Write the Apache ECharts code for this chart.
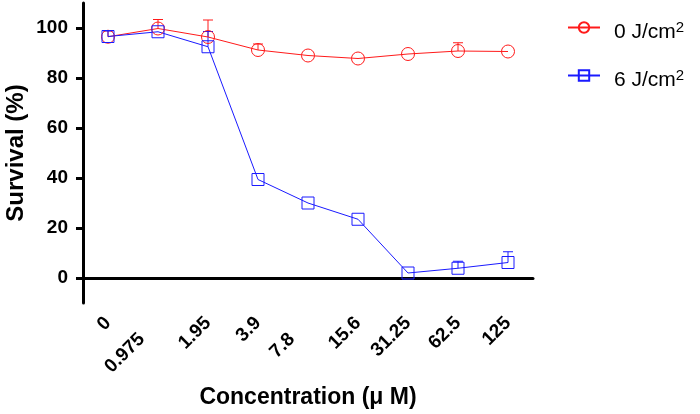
<!DOCTYPE html>
<html>
<head>
<meta charset="utf-8">
<script src="https://cdn.jsdelivr.net/npm/echarts@6/dist/echarts.min.js"></script>
<style>
html,body{margin:0;padding:0;background:#fff;}
#c{width:700px;height:414px;}
</style>
</head>
<body>
<div id="c"></div>
<script>
var categories = ['0', '0.975', '1.95', '3.9', '7.8', '15.6', '31.25', '62.5', '125'];
var dose0 = [96.5, 99.8, 96.4, 91.2, 89.0, 87.8, 89.6, 90.8, 90.6];
var dose0Err = [2.4, 3.6, 6.8, 2.4, 0, 0, 0, 3.3, 0];
var dose6 = [96.6, 98.5, 92.5, 39.4, 30.0, 23.5, 2.0, 3.9, 6.2];
var dose6Err = [2.2, 0, 6.1, 0, 0, 0, 0, 2.8, 4.3];
var yTicks = [0, 20, 40, 60, 80, 100];
var seriesNames = ['0 J/cm{sup|2}', '6 J/cm{sup|2}'];

var FONT = 'Arial, "Liberation Sans", sans-serif';
var RED = '#ff1a1a';
var BLUE = '#1a1aff';
var staggered = {'0.975': true, '7.8': true};

function errData(vals, errs) {
  var out = [];
  for (var i = 0; i < vals.length; i++) {
    if (errs[i] > 0) out.push([i, vals[i], vals[i] + errs[i]]);
  }
  return out;
}

function errRender(color) {
  return function (params, api) {
    var x = api.value(0);
    var p0 = api.coord([x, api.value(1)]);
    var p1 = api.coord([x, api.value(2)]);
    var hw = 5;
    return {
      type: 'group',
      children: [
        {type: 'line', shape: {x1: p0[0], y1: p0[1], x2: p1[0], y2: p1[1]}, style: {stroke: color, lineWidth: 1}},
        {type: 'line', shape: {x1: p1[0] - hw, y1: p1[1], x2: p1[0] + hw, y2: p1[1]}, style: {stroke: color, lineWidth: 1}}
      ]
    };
  };
}

var chart = echarts.init(document.getElementById('c'), null, {renderer: 'canvas'});
chart.setOption({
  animation: false,
  backgroundColor: '#fff',
  grid: {left: 83, right: 167, top: 3, bottom: 111, containLabel: false, outerBoundsMode: 'none'},
  legend: {
    orient: 'vertical',
    left: 562,
    top: 15,
    itemWidth: 32,
    itemHeight: 13,
    itemGap: 25,
    data: [seriesNames[0], seriesNames[1]],
    formatter: function (n) { return n; },
    textStyle: {
      fontFamily: FONT, fontSize: 21, color: '#000', padding: [10, 0, 0, 9],
      rich: {sup: {fontFamily: FONT, fontSize: 15, verticalAlign: 'top', padding: [0, 0, 10, 0], color: '#000'}}
    }
  },
  xAxis: {
    type: 'category',
    data: categories,
    boundaryGap: true,
    name: 'Concentration (μ M)',
    nameLocation: 'middle',
    nameGap: 83,
    nameMoveOverlap: false,
    nameTextStyle: {fontFamily: FONT, fontSize: 23, fontWeight: 'bold', color: '#000'},
    axisLine: {lineStyle: {color: '#000', width: 3}},
    axisTick: {alignWithLabel: true, length: 8, lineStyle: {color: '#000', width: 3}},
    axisLabel: {
      rotate: 45, margin: 17, interval: 0,
      fontFamily: FONT, fontSize: 19, fontWeight: 'bold', color: '#000',
      formatter: function (v) { return staggered[v] ? '{p|' + v + '}' : '{n|' + v + '}'; },
      rich: {
        n: {fontFamily: FONT, fontSize: 19, fontWeight: 'bold', color: '#000'},
        p: {fontFamily: FONT, fontSize: 19, fontWeight: 'bold', color: '#000', padding: [0, 23, 0, 0]}
      }
    },
    splitLine: {show: false}
  },
  yAxis: {
    type: 'value',
    min: -10,
    max: 110,
    name: 'Survival (%)',
    nameLocation: 'middle',
    nameGap: 55,
    nameMoveOverlap: false,
    nameTextStyle: {fontFamily: FONT, fontSize: 24, fontWeight: 'bold', color: '#000'},
    axisLine: {show: true, lineStyle: {color: '#000', width: 3}},
    axisTick: {show: true, length: 7, customValues: yTicks, lineStyle: {color: '#000', width: 3}},
    axisLabel: {customValues: yTicks, margin: 15, fontFamily: FONT, fontSize: 19, fontWeight: 'bold', color: '#000'},
    splitLine: {show: false}
  },
  series: [
    {
      name: seriesNames[0], type: 'line', data: dose0,
      symbol: 'circle', symbolSize: 13,
      lineStyle: {color: RED, width: 1},
      itemStyle: {color: 'rgba(255,255,255,0)', borderColor: RED, borderWidth: 1},
      z: 3
    },
    {
      name: seriesNames[1], type: 'line', data: dose6,
      symbol: 'rect', symbolSize: 12,
      lineStyle: {color: BLUE, width: 1},
      itemStyle: {color: 'rgba(255,255,255,0)', borderColor: BLUE, borderWidth: 1},
      z: 3
    },
    {type: 'custom', data: errData(dose0, dose0Err), renderItem: errRender(RED), encode: {x: 0, y: [1, 2]}, z: 2, silent: true},
    {type: 'custom', data: errData(dose6, dose6Err), renderItem: errRender(BLUE), encode: {x: 0, y: [1, 2]}, z: 2, silent: true}
  ]
});
</script>
</body>
</html>
